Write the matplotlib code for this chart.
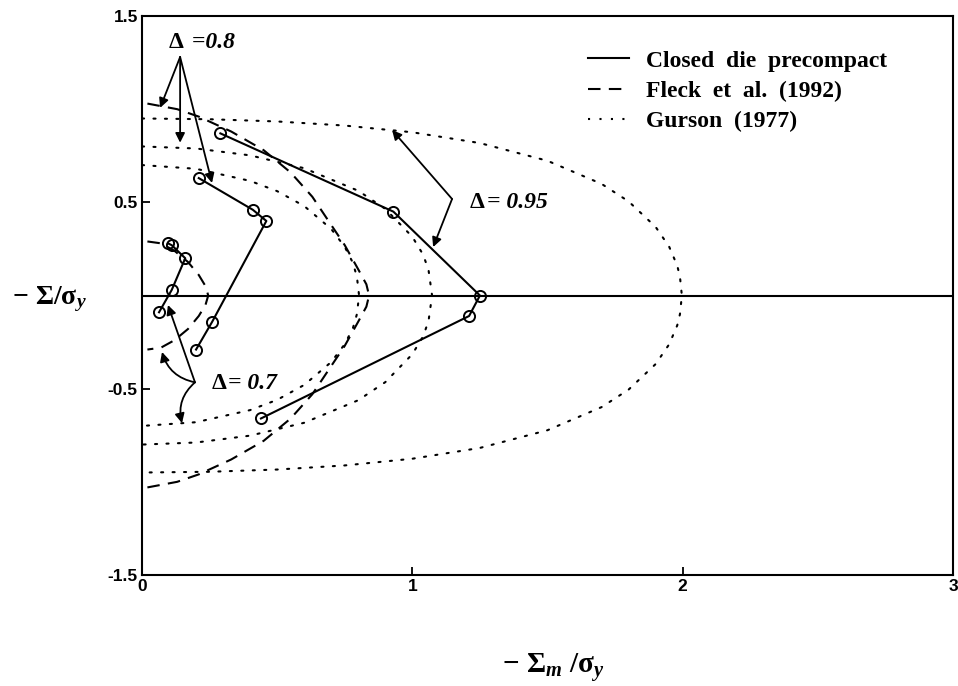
import numpy as np
import matplotlib
matplotlib.use("Agg")
import matplotlib.pyplot as plt
from matplotlib.lines import Line2D

plt.rcParams["mathtext.fontset"] = "custom"
plt.rcParams["mathtext.rm"] = "Liberation Serif:bold"
plt.rcParams["mathtext.it"] = "Liberation Serif:bold:italic"
plt.rcParams["mathtext.bf"] = "Liberation Serif:bold"

# --- closed die precompact loading paths ---------------------------------------------------
path_095_x = [0.29, 0.93, 1.25, 1.21, 0.44]
path_095_y = [0.87, 0.45, 0.00, -0.11, -0.66]
path_080_x = [0.21, 0.41, 0.46, 0.26, 0.20]
path_080_y = [0.63, 0.46, 0.40, -0.14, -0.29]
path_070_x = [0.096, 0.11, 0.16, 0.11, 0.063]
path_070_y = [0.28, 0.27, 0.20, 0.03, -0.09]

# --- Gurson (1977) surfaces, upper branch (the figure is symmetric about the x axis) -------
gur_095_x = [0.0, 0.25, 0.5, 0.75, 1.0, 1.25, 1.5, 1.7, 1.8, 1.9, 1.95, 1.98, 1.99, 1.997]
gur_095_y = [0.95, 0.946, 0.934, 0.912, 0.876, 0.818, 0.723, 0.599, 0.505, 0.368, 0.262, 0.160, 0.10, 0.0]
gur_080_x = [0.0, 0.2, 0.4, 0.6, 0.8, 0.9, 1.0, 1.04, 1.06, 1.073]
gur_080_y = [0.80, 0.789, 0.752, 0.683, 0.562, 0.465, 0.315, 0.219, 0.136, 0.0]
gur_070_x = [0.0, 0.2, 0.4, 0.5, 0.6, 0.7, 0.75, 0.78, 0.795, 0.803]
gur_070_y = [0.70, 0.68, 0.615, 0.56, 0.48, 0.357, 0.261, 0.176, 0.10, 0.0]

# --- Fleck et al. (1992) surfaces, upper branch --------------------------------------------
fle_080_x = [0.02, 0.13, 0.21, 0.33, 0.45, 0.55, 0.63, 0.69, 0.75, 0.80, 0.83, 0.84]
fle_080_y = [1.03, 1.00, 0.96, 0.88, 0.78, 0.66, 0.53, 0.40, 0.27, 0.14, 0.06, 0.0]
fle_070_x = [0.02, 0.07, 0.12, 0.17, 0.21, 0.235, 0.245]
fle_070_y = [0.29, 0.28, 0.24, 0.18, 0.11, 0.05, 0.0]

xticks = [0, 1, 2, 3]
xtick_labels = ["0", "1", "2", "3"]
yticks = [-1.5, -0.5, 0.5, 1.5]
ytick_labels = ["-1.5", "-0.5", "0.5", "1.5"]
legend_labels = ["Closed  die  precompact", "Fleck  et  al.  (1992)", "Gurson  (1977)"]

DASH = (0, (6, 4))
DOT = (0, (1, 4.5))


def closed(xs, ys):
    xs = np.asarray(xs); ys = np.asarray(ys)
    return np.r_[xs, xs[::-1]], np.r_[ys, -ys[::-1]]


fig = plt.figure(figsize=(9.58, 6.86), dpi=100)
ax = fig.add_axes([142 / 958, 1 - 575 / 686, (953 - 142) / 958, (575 - 16) / 686])

for gx, gy in [(gur_095_x, gur_095_y), (gur_080_x, gur_080_y), (gur_070_x, gur_070_y)]:
    cx, cy = closed(gx, gy)
    ax.plot(cx, cy, color="k", lw=1.5, ls=DOT, dash_capstyle="round")
for fx, fy in [(fle_080_x, fle_080_y), (fle_070_x, fle_070_y)]:
    cx, cy = closed(fx, fy)
    ax.plot(cx, cy, color="k", lw=1.5, ls=DASH)

ax.axhline(0, color="k", lw=1.5)
for px, py in [(path_095_x, path_095_y), (path_080_x, path_080_y), (path_070_x, path_070_y)]:
    ax.plot(px, py, color="k", lw=1.5, marker="o", ms=8, mfc="none", mew=1.4)

# --- arrows + density labels ---------------------------------------------------------------
arw = dict(arrowstyle="-|>", color="k", lw=1.3, mutation_scale=14, shrinkA=0, shrinkB=0)


def arrow(src, dst, rad=0.0):
    ax.annotate("", xy=dst, xytext=src,
                arrowprops=dict(arw, connectionstyle=f"arc3,rad={rad}"))


def density_label(x, y, txt):
    ax.text(x, y, "Δ", ha="right", va="center", family="Liberation Serif",
            weight="bold", fontsize=17)
    ax.text(x + 0.008, y, txt, ha="left", va="center", family="Liberation Serif",
            weight="bold", style="italic", fontsize=17)


for dst in [(0.067, 1.007), (0.141, 0.82), (0.259, 0.604)]:
    arrow((0.141, 1.28), dst)
density_label(0.155, 1.36, " =0.8")

for dst in [(0.925, 0.888), (1.077, 0.26)]:
    arrow((1.147, 0.518), dst)
density_label(1.267, 0.497, "= 0.95")

arrow((0.196, -0.466), (0.096, -0.051))
arrow((0.196, -0.466), (0.074, -0.303), rad=-0.3)
arrow((0.196, -0.466), (0.148, -0.685), rad=0.3)
density_label(0.311, -0.47, "= 0.7")

# --- axes ----------------------------------------------------------------------------------
ax.set_xlim(0, 3)
ax.set_ylim(-1.5, 1.5)
ax.set_xticks(xticks, xtick_labels)
ax.set_yticks(yticks, ytick_labels)
ax.tick_params(direction="in", length=6, width=1.3, top=False, right=False,
               labelsize=12.5, pad=3)
for lab in ax.get_xticklabels() + ax.get_yticklabels():
    lab.set_family("Liberation Sans"); lab.set_weight("bold")
for s in ax.spines.values():
    s.set_linewidth(1.5)

fig.text(553 / 958, 1 - 667 / 686, r"$-\ \mathrm{\Sigma}_{m}\ /\mathrm{\sigma}_{y}$",
         ha="center", va="center", fontsize=21)
fig.text(49 / 958, 1 - 299 / 686, r"$-\ \mathrm{\Sigma/\sigma}_{y}$",
         ha="center", va="center", fontsize=20)

handles = [Line2D([], [], color="k", lw=1.5),
           Line2D([], [], color="k", lw=1.5, ls=DASH),
           Line2D([], [], color="k", lw=1.5, ls=DOT)]
ax.legend(handles, legend_labels, loc="upper left", bbox_to_anchor=(588 / 958, 1 - 50 / 686),
          bbox_transform=fig.transFigure, frameon=False, borderpad=0, borderaxespad=0,
          handlelength=1.75, handletextpad=0.7, labelspacing=0.37,
          prop=dict(family="Liberation Serif", weight="bold", size=17))

fig.savefig("out.png", dpi=100)
